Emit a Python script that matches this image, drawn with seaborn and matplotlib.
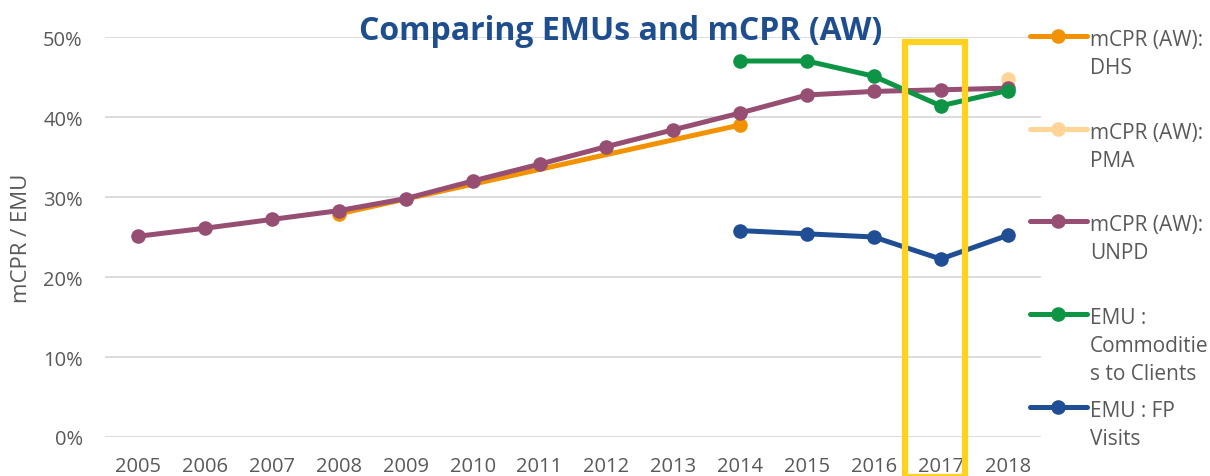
import numpy as np
import pandas as pd
import seaborn as sns
import matplotlib
matplotlib.use("Agg")
import matplotlib.pyplot as plt
from matplotlib.lines import Line2D
from matplotlib.patches import Rectangle
from matplotlib.ticker import FuncFormatter

# data (percent)
years = list(range(2005, 2019))
dhs = [np.nan, np.nan, np.nan, 27.9, np.nan, np.nan, np.nan, np.nan, np.nan, 39.0,
       np.nan, np.nan, np.nan, np.nan]
pma = [np.nan] * 13 + [44.7]
unpd = [25.1, 26.1, 27.2, 28.3, 29.8, 32.0, 34.1, 36.3, 38.4, 40.5, 42.75, 43.2, 43.4, 43.6]
emu_comm = [np.nan] * 9 + [47.0, 47.0, 45.1, 41.4, 43.3]
emu_fp = [np.nan] * 9 + [25.8, 25.4, 25.0, 22.25, 25.2]

series_names = ["mCPR (AW): DHS", "mCPR (AW): PMA", "mCPR (AW): UNPD",
                "EMU : Commodities to Clients", "EMU : FP Visits"]
legend_labels = [["mCPR (AW):", "DHS"], ["mCPR (AW):", "PMA"], ["mCPR (AW):", "UNPD"],
                 ["EMU :", "Commoditie", "s to Clients"], ["EMU : FP", "Visits"]]
colors = ["#F39200", "#FFD497", "#964F72", "#0E9445", "#1F4E94"]
highlight_year = 2017

df = pd.DataFrame({"year": years * 5,
                   "value": dhs + pma + unpd + emu_comm + emu_fp,
                   "series": sum([[s] * len(years) for s in series_names], [])})
df = df.dropna()

sns.set_theme(style="white")
plt.rcParams["font.family"] = ["Open Sans", "DejaVu Sans"]

W, H = 1210, 477
fig = plt.figure(figsize=(W / 100, H / 100), dpi=100)
ax = fig.add_axes([105 / W, 1 - 438 / H, 936 / W, 400 / H])

sns.lineplot(data=df, x="year", y="value", hue="series", hue_order=series_names,
             palette=colors, marker="o", markersize=10.5, markeredgewidth=0,
             linewidth=3.6, legend=False, ax=ax)

ax.set_xlim(2004.5, 2018.5)
ax.set_ylim(0, 50)
ax.set_xticks(years)
ax.set_yticks(range(0, 51, 10))
ax.yaxis.set_major_formatter(FuncFormatter(lambda v, p: f"{v:.0f}%"))
ax.grid(axis="y", color="#D9D9D9", linewidth=1.3)
ax.set_axisbelow(True)
for s in ax.spines.values():
    s.set_visible(False)
ax.tick_params(axis="both", length=0, labelsize=14.5, labelcolor="#595959")
ax.tick_params(axis="x", pad=14)
ax.tick_params(axis="y", pad=16)
ax.set_xlabel("")
ax.set_ylabel("mCPR / EMU", fontsize=16, color="#595959")
ax.yaxis.set_label_coords(-0.078, 0.5)

# yellow highlight box around 2017
ax.add_patch(Rectangle((highlight_year - 0.54, -5.0), 0.91, 54.4, fill=False,
                       edgecolor="#FFD21F", linewidth=4.5, clip_on=False, zorder=5))

fig.text(621 / W, 1 - 40 / H, "Comparing EMUs and mCPR (AW)", ha="center",
         va="baseline", fontsize=23, fontweight="bold", color="#1F4E8F")

# legend on the right, handle aligned with first line of text
entry_y = [37, 130, 222, 315, 408]
for lines, col, yy in zip(legend_labels, colors, entry_y):
    fy = 1 - yy / H
    fig.add_artist(Line2D([1030 / W, 1087 / W], [fy, fy], color=col, linewidth=3.6,
                          transform=fig.transFigure))
    fig.add_artist(Line2D([1058 / W], [fy], color=col, marker="o", markersize=10.5,
                          markeredgewidth=0, transform=fig.transFigure))
    for i, line in enumerate(lines):
        fig.text(1090 / W, 1 - (yy + 9 + 28 * i) / H, line, ha="left", va="baseline",
                 fontsize=15, color="#595959")

fig.savefig("out.png", dpi=100)
